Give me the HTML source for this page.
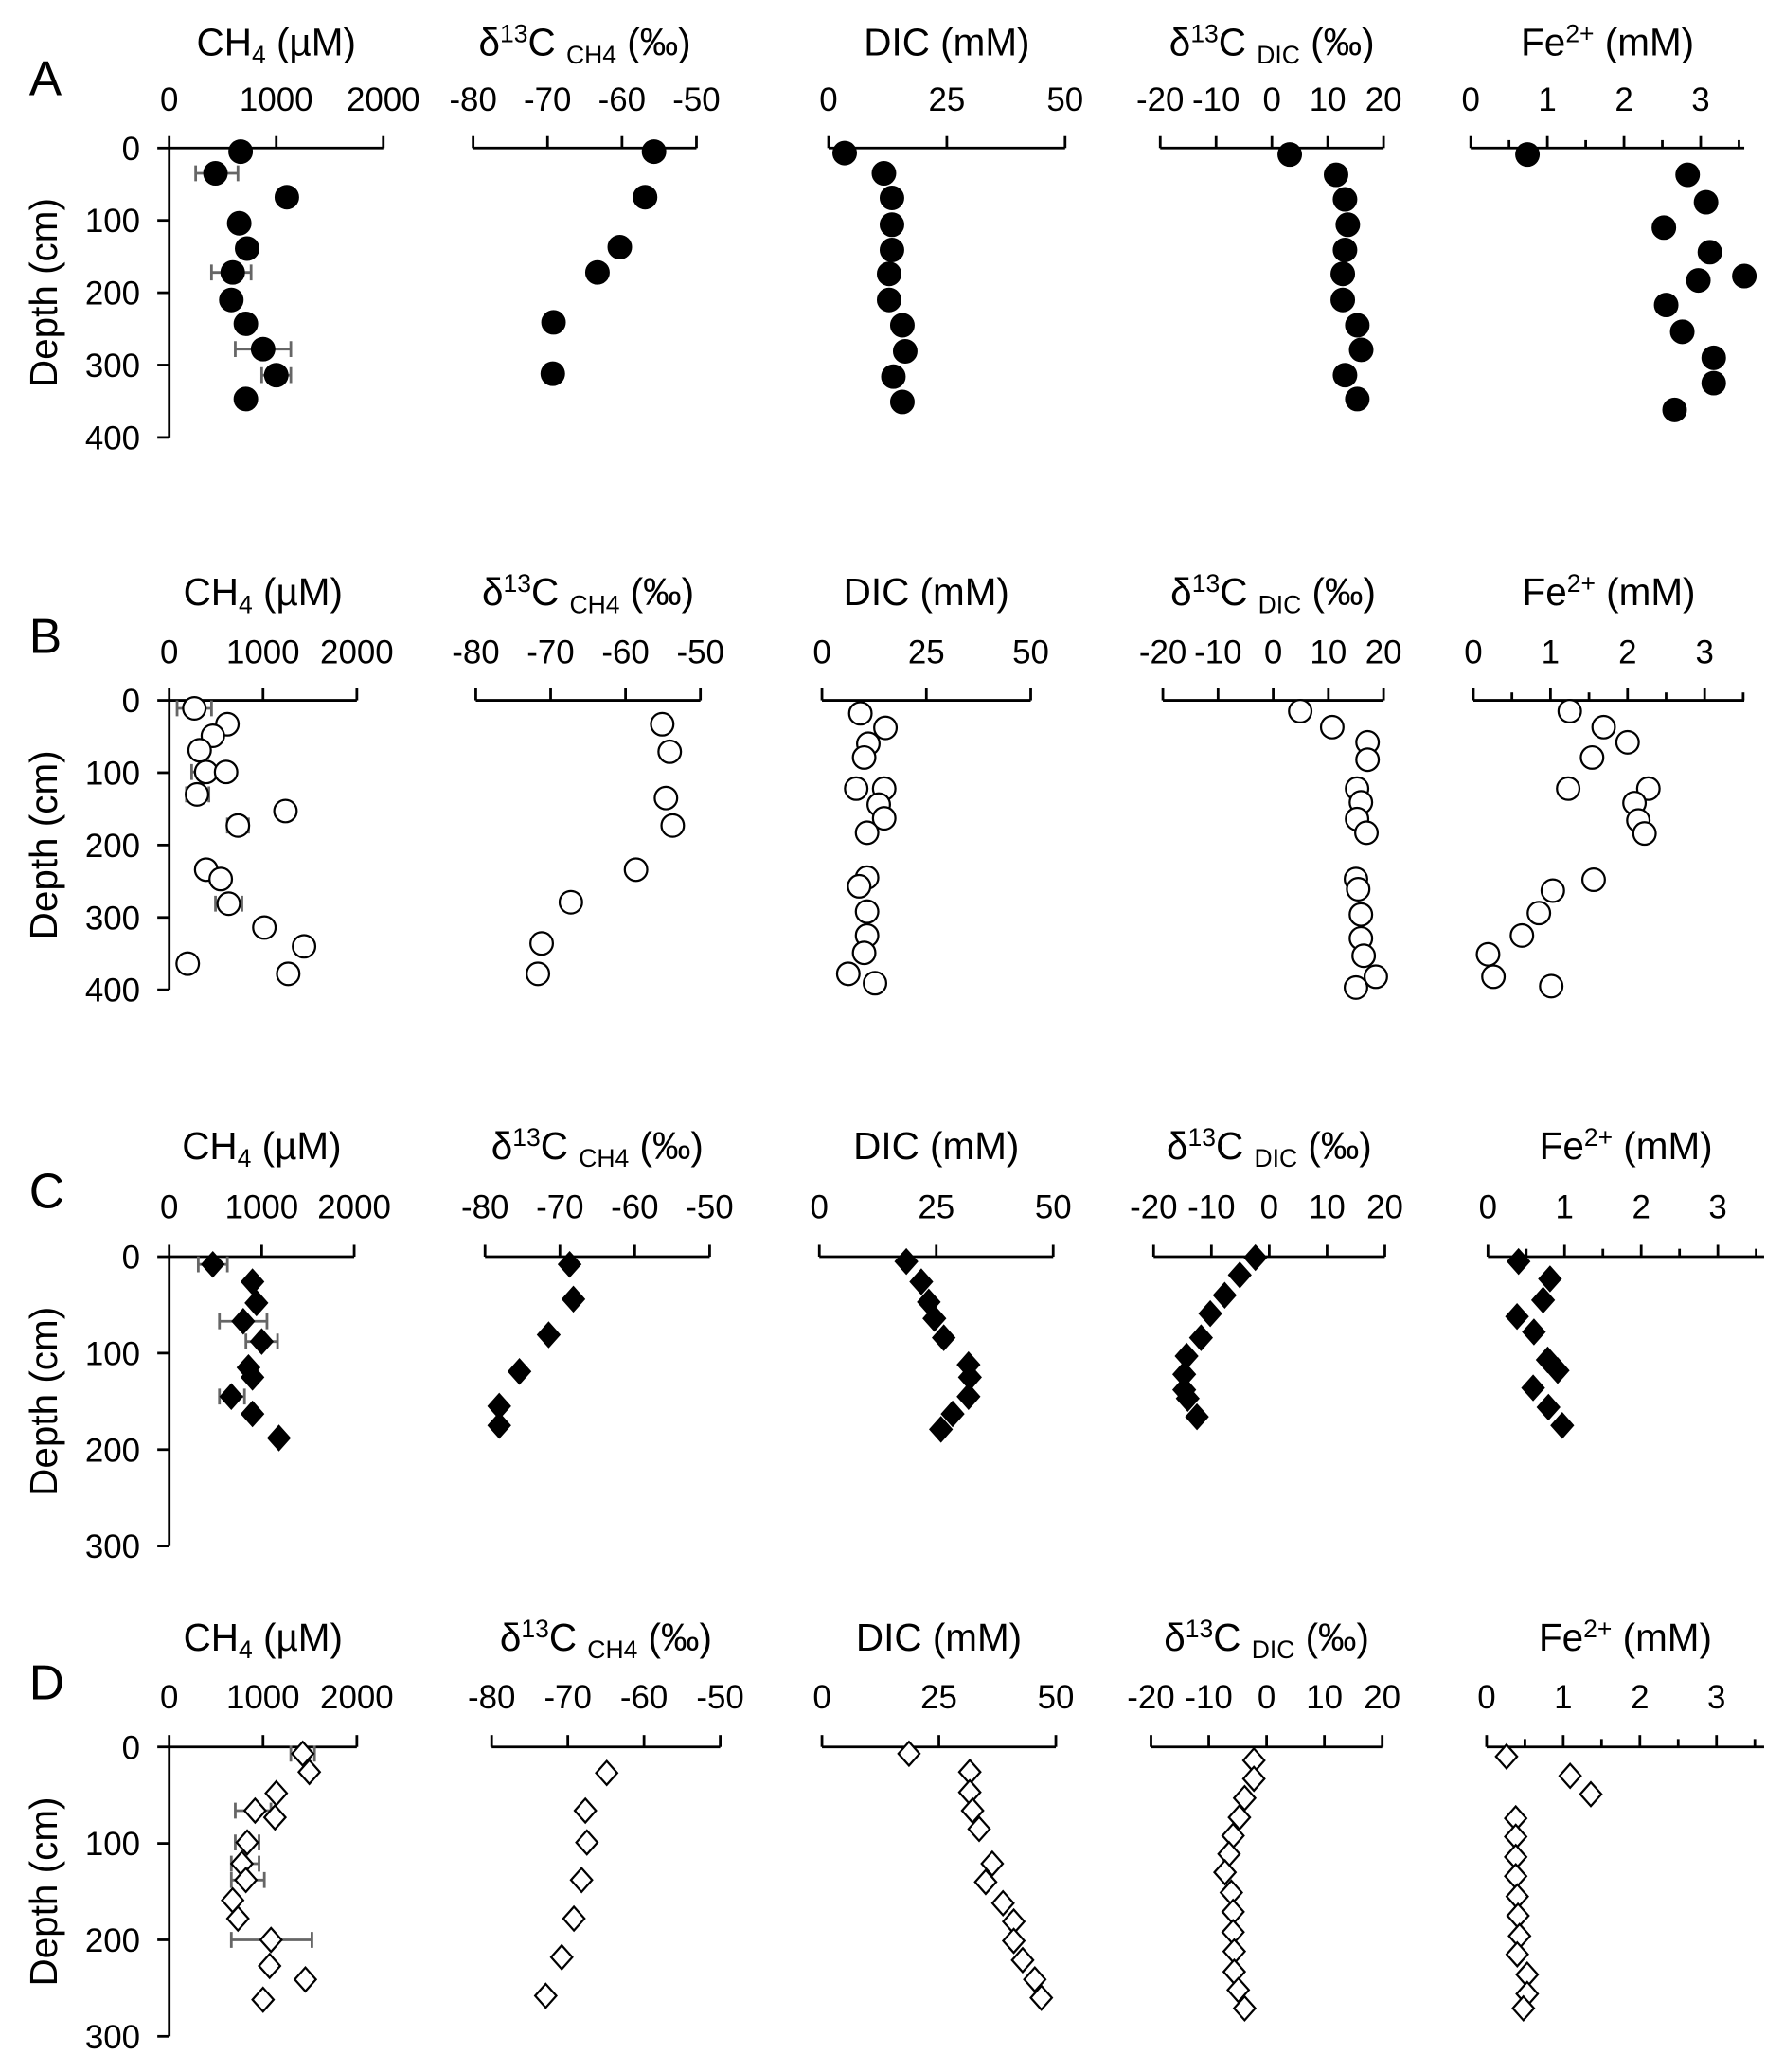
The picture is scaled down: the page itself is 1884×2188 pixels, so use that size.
<!DOCTYPE html>
<html><head><meta charset="utf-8"><style>
html,body{margin:0;padding:0;background:#fff;}
svg{display:block;font-family:"Liberation Sans",sans-serif;}
</style></head><body>
<svg id="fig" width="1884" height="2188" viewBox="0 0 1350 1568" xmlns="http://www.w3.org/2000/svg"></svg>
<script>
// ---- Data: [value, depth cm] ----
const aCh4=[[667,5],[432,35],[1099,68],[654,104],[728,139],[593,172],[580,210],[716,243],[877,278],[1000,314],[716,347]];
const aCh4Err=[[35,247,642],[172,395,765],[278,617,1136],[314,864,1136]];
const aD13Ch4=[[-55.7,5],[-56.9,68],[-60.3,137],[-63.3,172],[-69.2,241],[-69.3,312]];
const aDic=[[3.4,7],[11.7,35],[13.4,69],[13.4,106],[13.4,141],[12.8,174],[12.8,210],[15.6,245],[16.2,281],[13.7,316],[15.6,351]];
const aD13Dic=[[3.2,9],[11.5,37],[13.1,71],[13.6,106],[13.1,141],[12.7,174],[12.7,210],[15.3,245],[16,279],[13.1,314],[15.3,347]];
const aFe=[[0.74,9],[2.83,37],[3.07,75],[2.52,110],[3.12,144],[2.97,183],[3.57,177],[2.55,217],[2.76,254],[3.17,290],[3.17,325],[2.66,362]];

const bCh4=[[268,11],[620,33],[465,49],[324,69],[394,99],[606,99],[296,130],[1239,153],[732,173],[394,234],[549,247],[634,281],[1014,314],[1437,340],[197,364],[1268,378]];
const bCh4Err=[[11,84,451],[99,239,563],[130,183,423],[173,620,845],[281,493,775]];
const bD13Ch4=[[-55.1,33],[-54.1,71],[-54.6,135],[-53.7,173],[-58.6,234],[-67.3,279],[-71.2,336],[-71.7,378]];
const bDic=[[9.2,18],[15.2,38],[11.1,60],[10.1,79],[8.2,122],[14.9,122],[13.6,144],[14.9,163],[10.8,183],[10.8,245],[8.9,257],[10.8,292],[10.8,325],[10.1,349],[6.3,378],[12.7,391]];
const bD13Dic=[[4.9,15],[10.7,37],[17.1,58],[17.1,82],[15.2,122],[15.9,141],[15.2,164],[16.9,183],[15,247],[15.4,261],[15.9,296],[15.9,329],[16.4,353],[18.6,382],[15,397]];
const bFe=[[1.25,15],[1.69,37],[2.0,58],[1.54,79],[2.27,122],[1.23,122],[2.09,142],[2.14,166],[2.22,184],[1.56,248],[1.03,263],[0.85,294],[0.63,325],[0.19,351],[0.26,382],[1.01,395]];

const cCh4=[[471,8],[900,26],[943,48],[800,67],[1000,88],[857,115],[900,125],[671,145],[900,163],[1186,188]];
const cCh4Err=[[8,314,629],[67,543,1057],[88,829,1171],[145,543,814]];
const cD13Ch4=[[-68.7,8],[-68.2,44],[-71.5,81],[-75.4,119],[-78.1,155],[-78.1,175]];
const cDic=[[18.6,5],[21.8,26],[23.4,47],[24.6,64],[26.6,84],[31.9,112],[32.2,125],[31.9,145],[28.5,163],[26,179]];
const cD13Dic=[[-2.4,1],[-5.1,19],[-7.7,40],[-10.2,59],[-11.8,84],[-14.3,103],[-14.7,122],[-14.7,138],[-14.1,147],[-12.5,166]];
const cFe=[[0.40,5],[0.81,23],[0.72,45],[0.38,62],[0.6,78],[0.78,107],[0.91,118],[0.59,136],[0.79,156],[0.97,175]];

const dCh4=[[1423,7],[1493,26],[1141,48],[915,66],[1127,73],[831,99],[775,121],[817,138],[676,159],[732,178],[1085,200],[1070,227],[1451,241],[1000,262]];
const dCh4Err=[[7,1296,1549],[66,704,1084],[99,704,957],[121,662,957],[138,662,1014],[200,662,1521]];
const dD13Ch4=[[-64.9,27],[-67.7,66],[-67.5,99],[-68.2,138],[-69.2,178],[-70.8,218],[-72.9,258]];
const dDic=[[18.6,7],[31.6,26],[31.6,47],[32.2,66],[33.6,85],[36.4,121],[35,140],[38.7,162],[41,181],[41,201],[42.9,221],[45.5,241],[46.9,260]];
const dD13Dic=[[-2.2,14],[-2.2,33],[-3.8,53],[-4.7,73],[-5.8,92],[-6.5,111],[-7.2,130],[-6.1,151],[-5.8,171],[-5.8,192],[-5.6,212],[-5.6,233],[-4.9,252],[-3.8,271]];
const dFe=[[0.26,10],[1.09,30],[1.36,49],[0.38,74],[0.38,93],[0.38,114],[0.38,134],[0.4,155],[0.41,175],[0.43,196],[0.4,215],[0.53,236],[0.53,256],[0.48,271]];

const ch4Ticks=[0,1000,2000], d13Ch4Ticks=[-80,-70,-60,-50], dicTicks=[0,25,50], d13DicTicks=[-20,-10,0,10,20], feTicks=[0,1,2,3];
const depthTicksAB=[0,100,200,300,400], depthTicksCD=[0,100,200,300];

// ---- Layout ----
const NS="http://www.w3.org/2000/svg";
const svg=document.getElementById('fig');
function el(tag,attrs,parent){const e=document.createElementNS(NS,tag);for(const k in attrs)e.setAttribute(k,attrs[k]);(parent||svg).appendChild(e);return e;}

const rows=[
 {id:'a',letter:'A',y0:112,px100:54.75,dmax:400,dticks:depthTicksAB,titleY:42,tickY:84,letterY:58,
  ax:[[128,290],[358,527],[627,806],[878,1047],[1113,1287,1320]],
  data:[aCh4,aD13Ch4,aDic,aD13Dic,aFe],err:aCh4Err,marker:'fc'},
 {id:'b',letter:'B',y0:530,px100:54.75,dmax:400,dticks:depthTicksAB,titleY:458,tickY:502,letterY:480,
  ax:[[128,270],[360,530],[622,780],[880,1047],[1115,1290,1320]],
  data:[bCh4,bD13Ch4,bDic,bD13Dic,bFe],err:bCh4Err,marker:'oc'},
 {id:'c',letter:'C',y0:951,px100:73,dmax:300,dticks:depthTicksCD,titleY:877,tickY:922,letterY:900,
  ax:[[128,268],[367,537],[620,797],[873,1048],[1126,1300,1335]],
  data:[cCh4,cD13Ch4,cDic,cD13Dic,cFe],err:cCh4Err,marker:'fd'},
 {id:'d',letter:'D',y0:1322,px100:73,dmax:300,dticks:depthTicksCD,titleY:1249,tickY:1293,letterY:1272,
  ax:[[128,270],[372,545],[622,799],[871,1046],[1125,1299,1335]],
  data:[dCh4,dD13Ch4,dDic,dD13Dic,dFe],err:dCh4Err,marker:'od'}
];
const tickSets=[ch4Ticks,d13Ch4Ticks,dicTicks,d13DicTicks,feTicks];
const panelNames=['ch4','d13c-ch4','dic','d13c-dic','fe'];

function title(g,k,x,y){
  const t=el('text',{x:x,y:y,'text-anchor':'middle','font-size':29,fill:'#000'},g);
  
  
  const add=(s,o)=>{const sp=el('tspan',o||{},t);sp.textContent=s;};
  if(k===0){add('CH');add('4',{'font-size':19,dy:6});add(' (µM)',{dy:-6});}
  else if(k===1){add('δ');add('13',{'font-size':19,dy:-10});add('C ',{dy:10});add('CH4',{'font-size':19,dy:6});add(' (‰)',{dy:-6});}
  else if(k===2){add('DIC (mM)');}
  else if(k===3){add('δ');add('13',{'font-size':19,dy:-10});add('C ',{dy:10});add('DIC',{'font-size':19,dy:6});add(' (‰)',{dy:-6});}
  else {add('Fe');add('2+',{'font-size':19,dy:-10});add(' (mM)',{dy:10});}
}

rows.forEach(r=>{
  const g=el('g',{});
  
  
  const L=el('text',{x:22,y:r.letterY+14,'font-size':37,fill:'#000'},g);
  
  
  L.textContent=r.letter;
  const yOf=d=>r.y0+d/100*r.px100;
  const yb=yOf(r.dmax);
  const ya=el('line',{x1:128,y1:r.y0,x2:128,y2:yb,stroke:'#000','stroke-width':2},g);
  
  
  r.dticks.forEach(d=>{
    el('line',{x1:119,y1:yOf(d),x2:128,y2:yOf(d),stroke:'#000','stroke-width':2},g);
    const t=el('text',{x:106,y:yOf(d)+9,'text-anchor':'end','font-size':25,fill:'#000'},g);
    
    
    t.textContent=d;
  });
  const yt=el('text',{transform:`translate(43,${(r.y0+yb)/2}) rotate(-90)`,'text-anchor':'middle','font-size':29,fill:'#000'},g);
  
  
  yt.textContent='Depth (cm)';

  r.ax.forEach((a,k)=>{
    const ticks=tickSets[k];
    const t0=ticks[0],t1=ticks[ticks.length-1];
    const xOf=v=>a[0]+(v-t0)/(t1-t0)*(a[1]-a[0]);
    const xEnd=a[2]||a[1];
    const pg=el('g',{},g);
    
    
    const xl=el('line',{x1:a[0],y1:r.y0,x2:xEnd,y2:r.y0,stroke:'#000','stroke-width':2},pg);
    
    
    ticks.forEach(v=>{
      el('line',{x1:xOf(v),y1:r.y0,x2:xOf(v),y2:r.y0-9,stroke:'#000','stroke-width':2},pg);
      const t=el('text',{x:xOf(v),y:r.tickY,'text-anchor':'middle','font-size':25,fill:'#000'},pg);
      
      
      t.textContent=v;
    });
    if(k===4){[0.5,1.5,2.5,3.5].forEach(v=>{if(xOf(v)<=xEnd+1)el('line',{x1:xOf(v),y1:r.y0,x2:xOf(v),y2:r.y0-6,stroke:'#000','stroke-width':2},pg);});}
    title(pg,k,(a[0]+xEnd)/2,r.titleY);
    if(k===0){
      r.err.forEach(e=>{
        const y=yOf(e[0]),x1=xOf(e[1]),x2=xOf(e[2]);
        const eb=el('path',{d:`M${x1},${y}H${x2}M${x1},${y-6}V${y+6}M${x2},${y-6}V${y+6}`,stroke:'#666','stroke-width':2,fill:'none'},pg);
        
        
      });
    }
    r.data[k].forEach(p=>{
      const x=xOf(p[0]),y=yOf(p[1]);
      let m;
      const filled=r.marker[0]==='f';
      const fill=filled?'#000':'#fff';
      if(r.marker[1]==='c') m=el('circle',{cx:x,cy:y,r:8.5,fill:fill,stroke:'#000','stroke-width':1.6},pg);
      else m=el('path',{d:`M${x},${y-9}L${x+8},${y}L${x},${y+9}L${x-8},${y}Z`,fill:fill,stroke:'#000','stroke-width':1.6},pg);
      
      
    });
  });
});
</script>
</body></html>
